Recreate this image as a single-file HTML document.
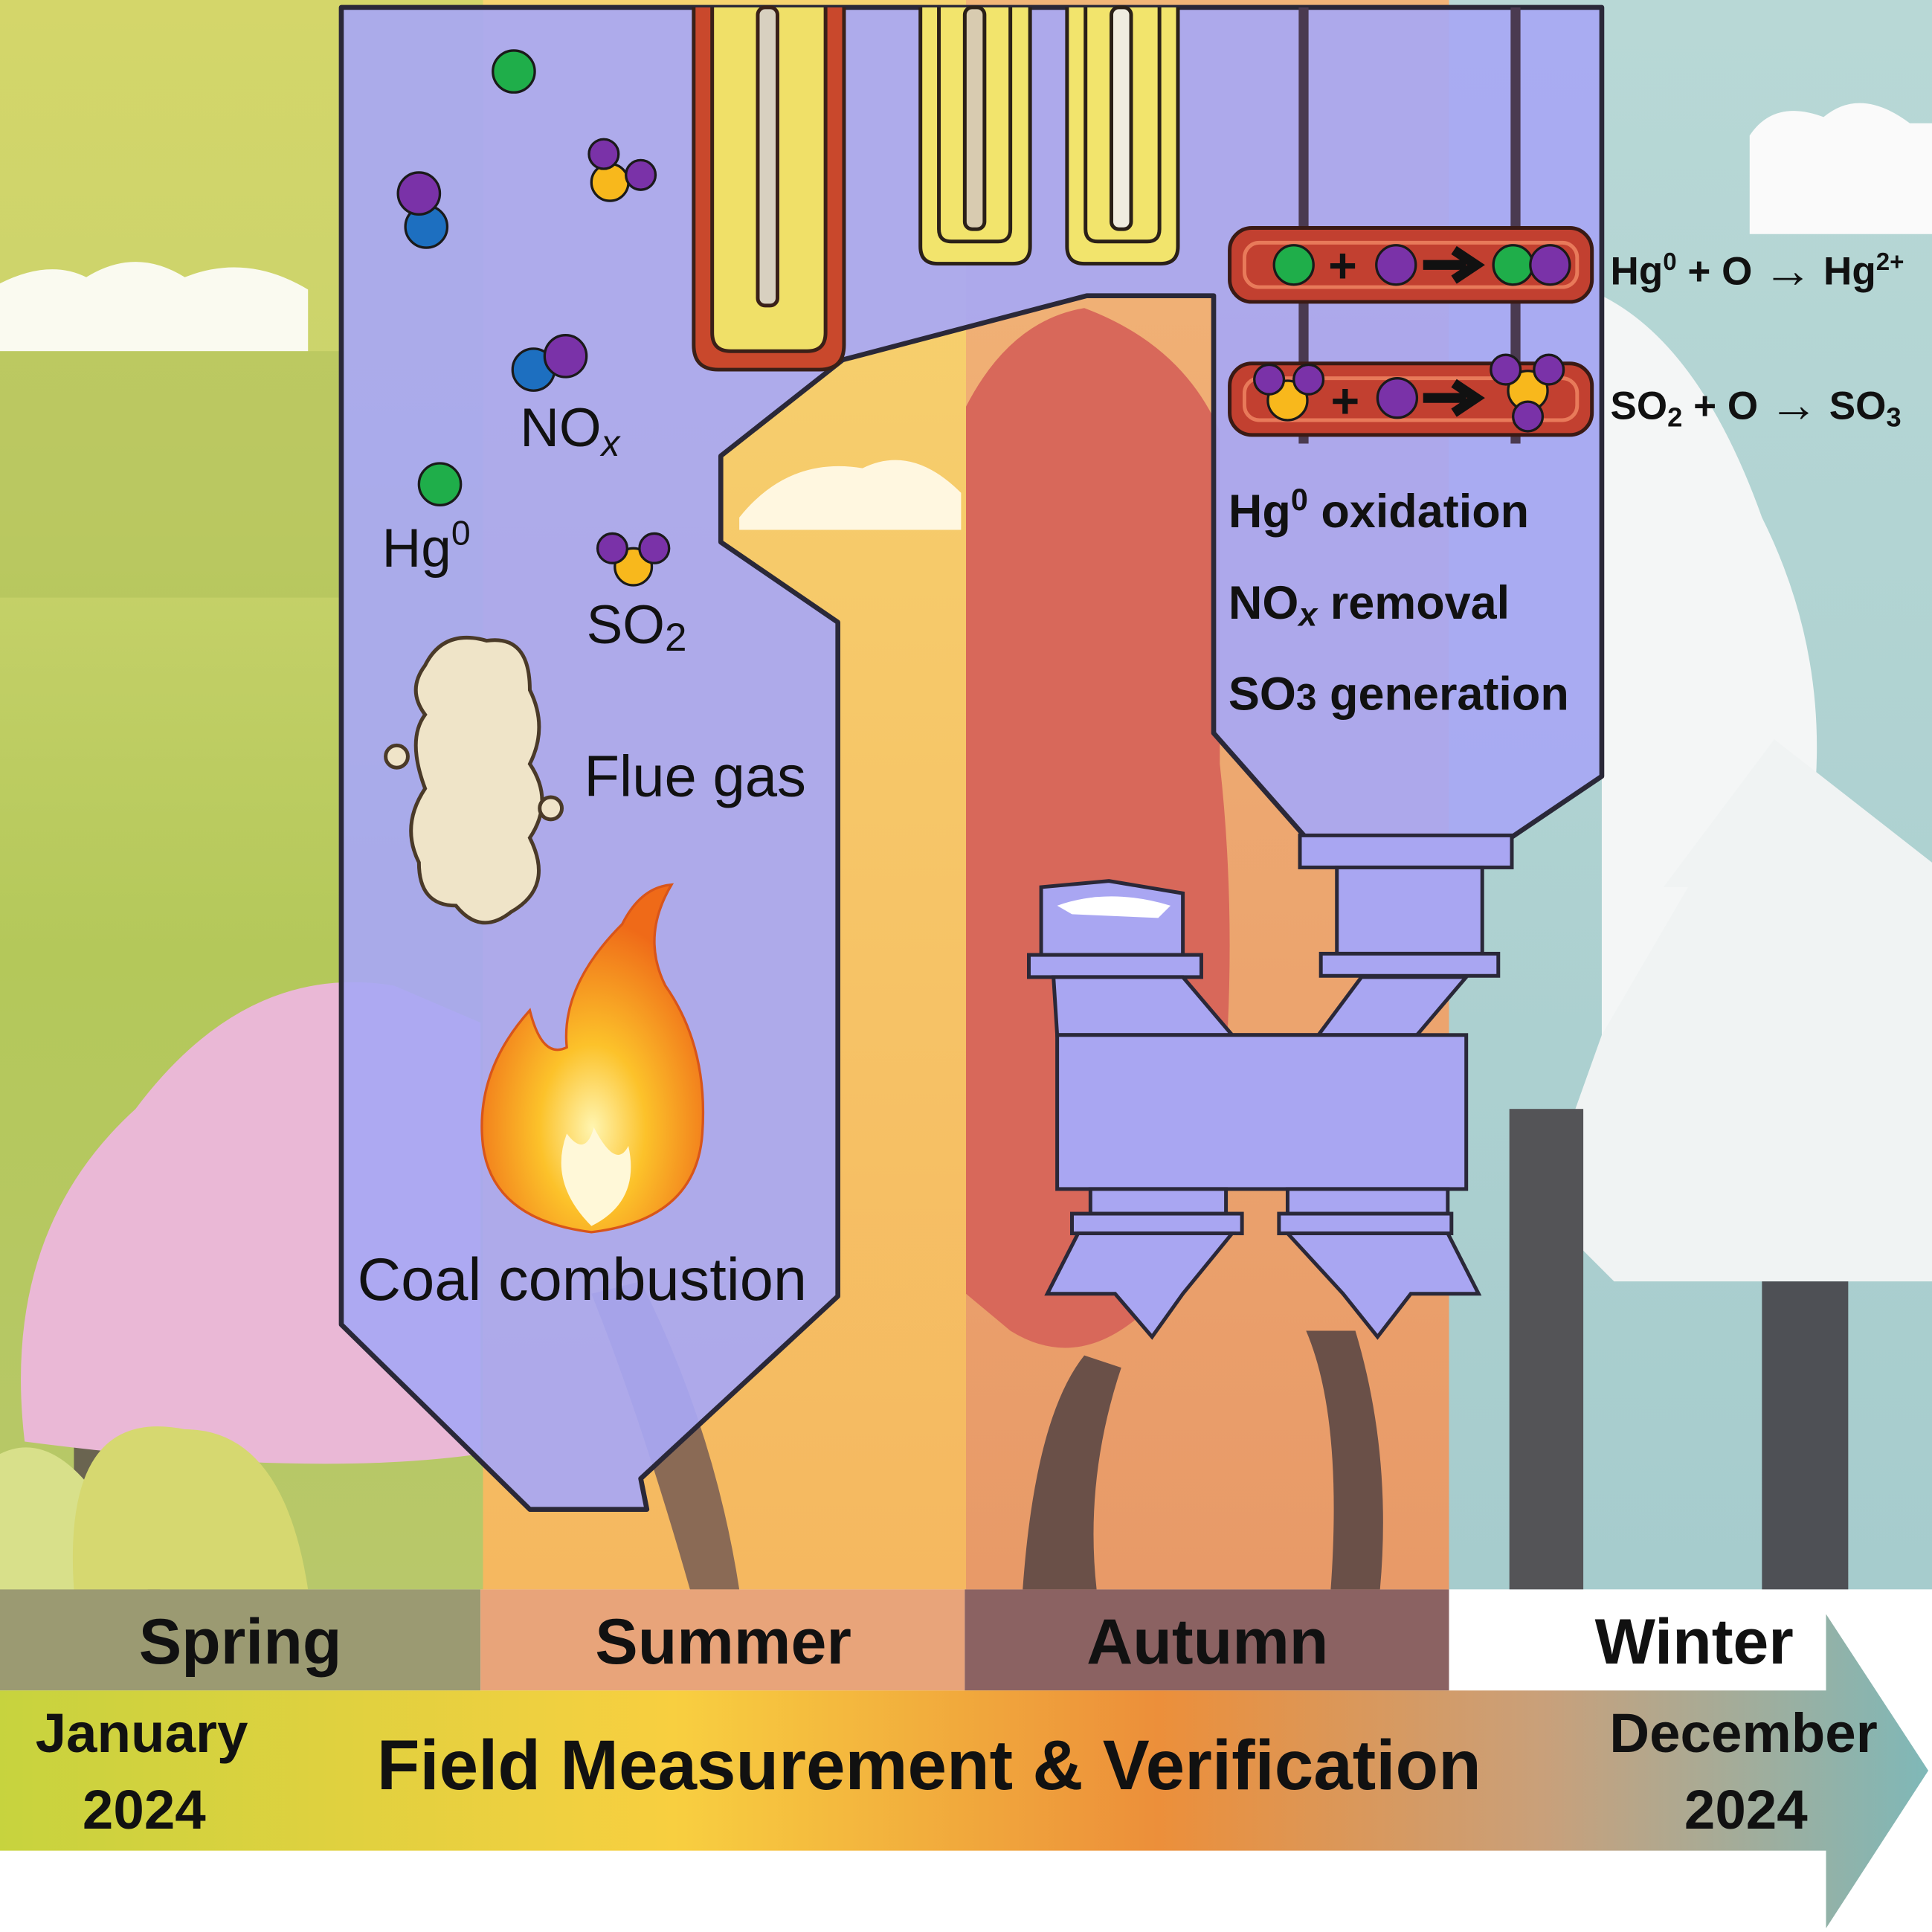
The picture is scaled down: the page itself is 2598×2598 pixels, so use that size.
<!DOCTYPE html>
<html><head><meta charset="utf-8"><style>html,body{margin:0;padding:0;background:#fff}svg{display:block}</style></head>
<body>
<svg width="2598" height="2598" viewBox="0 0 1568 1568" xmlns="http://www.w3.org/2000/svg" font-family="Liberation Sans, DejaVu Sans, sans-serif">
<defs>
<linearGradient id="spr" x1="0" y1="0" x2="0" y2="1"><stop offset="0" stop-color="#d4d66a"/><stop offset="0.3" stop-color="#c9d36c"/><stop offset="0.6" stop-color="#b4c85a"/><stop offset="1" stop-color="#b8c86a"/></linearGradient>
<linearGradient id="sum" x1="0" y1="0" x2="0" y2="1"><stop offset="0" stop-color="#f7d470"/><stop offset="1" stop-color="#f5b860"/></linearGradient>
<linearGradient id="aut" x1="0" y1="0" x2="0" y2="1"><stop offset="0" stop-color="#f2b578"/><stop offset="1" stop-color="#e89a68"/></linearGradient>
<linearGradient id="win" x1="0" y1="0" x2="0" y2="1"><stop offset="0" stop-color="#b8d8d6"/><stop offset="1" stop-color="#a6cccd"/></linearGradient>
<linearGradient id="arr" x1="0" y1="0" x2="1" y2="0"><stop offset="0" stop-color="#c7d33e"/><stop offset="0.35" stop-color="#f8cf40"/><stop offset="0.6" stop-color="#ec8f3a"/><stop offset="0.8" stop-color="#c9a07a"/><stop offset="1" stop-color="#7fb8b8"/></linearGradient>
<radialGradient id="fire" cx="0.5" cy="0.7" r="0.6"><stop offset="0" stop-color="#fff5b0"/><stop offset="0.4" stop-color="#fcc22a"/><stop offset="1" stop-color="#ef6a18"/></radialGradient>
</defs>
<rect x="0" y="0" width="392" height="1290" fill="url(#spr)"/>
<rect x="392" y="0" width="392" height="1290" fill="url(#sum)"/>
<rect x="784" y="0" width="392" height="1290" fill="url(#aut)"/>
<rect x="1176" y="0" width="392" height="1290" fill="url(#win)"/>
<path d="M0 230 Q40 210 70 225 Q110 200 150 225 Q200 205 250 235 L250 285 L0 285Z" fill="#fafaf0"/>
<rect x="0" y="285" width="280" height="200" fill="#b0c25a" opacity="0.6"/>
<rect x="60" y="1100" width="70" height="190" fill="#6a6450"/>
<path d="M20 1170 Q0 1000 110 900 Q200 780 320 800 L390 830 L390 1180 Q250 1200 20 1170Z" fill="#eab8d6"/>
<path d="M0 1180 Q60 1150 120 1290 L0 1290Z" fill="#d8e08a"/>
<path d="M60 1290 Q50 1140 150 1160 Q230 1160 250 1290Z" fill="#d6d870"/>
<path d="M600 420 Q640 370 700 380 Q740 360 780 400 L780 430 L600 430Z" fill="#fff7e0"/>
<path d="M560 1290 Q520 1150 480 1050 L520 1040 Q580 1160 600 1290Z" fill="#8a6a55"/>
<path d="M784 330 Q820 260 880 250 Q960 280 990 350 L990 620 Q1010 800 980 1000 Q900 1130 820 1080 L784 1050Z" fill="#d8685a"/>
<path d="M830 1290 Q840 1150 880 1100 L910 1110 Q880 1200 890 1290Z" fill="#6a5048"/>
<path d="M1080 1290 Q1090 1150 1060 1080 L1100 1080 Q1130 1180 1120 1290Z" fill="#6a5048"/>
<path d="M1420 110 Q1440 80 1480 95 Q1510 70 1550 100 L1568 100 L1568 190 L1420 190Z" fill="#fafafa"/>
<path d="M1300 240 Q1380 280 1430 420 Q1500 560 1460 720 Q1440 860 1300 880 L1300 240Z" fill="#f4f6f6"/>
<path d="M1440 600 L1300 840 L1250 980 L1310 1040 L1568 1040 L1568 700Z" fill="#f0f3f3"/>
<path d="M1440 600 L1350 720 L1530 720Z" fill="#f0f3f3"/>
<rect x="1225" y="900" width="60" height="390" fill="#545457"/>
<rect x="1430" y="1040" width="70" height="250" fill="#4e5055"/>
<path d="M277 6 L1300 6 L1300 630 L1226 680 L1060 680 L985 595 L985 240 L882 240 L684 292 L585 370 L585 440 L680 505 L680 1052 L520 1200 L525 1225 L430 1225 L277 1075 Z" fill="#a8a8f4" fill-opacity="0.93" stroke="#2a2838" stroke-width="4" stroke-linejoin="round"/>
<path d="M563 6 L563 280 Q563 300 583 300 L665 300 Q685 300 685 280 L685 6" fill="#c9482c" stroke="#3a2018" stroke-width="3"/>
<path d="M578 6 L578 270 Q578 285 593 285 L655 285 Q670 285 670 270 L670 6" fill="#f0e068" stroke="#3a2018" stroke-width="3"/>
<rect x="615" y="6" width="16" height="242" rx="6" fill="#d8d0c0" stroke="#3a2018" stroke-width="3"/>
<g fill="#f2e46c" stroke="#2a2018" stroke-width="3">
<path d="M747 6 L747 200 Q747 214 761 214 L822 214 Q836 214 836 200 L836 6"/>
<path d="M762 6 L762 186 Q762 196 772 196 L810 196 Q820 196 820 186 L820 6"/>
<rect x="783" y="6" width="16" height="180" rx="6" fill="#d8cbb0"/>
<path d="M866 6 L866 200 Q866 214 880 214 L942 214 Q956 214 956 200 L956 6"/>
<path d="M881 6 L881 186 Q881 196 891 196 L931 196 Q941 196 941 186 L941 6"/>
<rect x="902" y="6" width="16" height="180" rx="6" fill="#f0ece0"/>
</g>
<line x1="1058" y1="6" x2="1058" y2="360" stroke="#4a3a50" stroke-width="8"/>
<line x1="1230" y1="6" x2="1230" y2="360" stroke="#4a3a50" stroke-width="8"/>
<rect x="998" y="185" width="294" height="60" rx="18" fill="#c24030" stroke="#3a1a14" stroke-width="3"/>
<rect x="1010" y="197" width="270" height="36" rx="12" fill="none" stroke="#e87a5a" stroke-width="3"/>
<rect x="998" y="295" width="294" height="58" rx="18" fill="#c24030" stroke="#3a1a14" stroke-width="3"/>
<rect x="1010" y="307" width="270" height="34" rx="12" fill="none" stroke="#e87a5a" stroke-width="3"/>
<g stroke="#1a1a1a" stroke-width="2">
<circle cx="1050" cy="215" r="16" fill="#1fae4a"/><circle cx="1133" cy="215" r="16" fill="#7a32a8"/>
<circle cx="1228" cy="215" r="16" fill="#1fae4a"/><circle cx="1258" cy="215" r="16" fill="#7a32a8"/>
<circle cx="1045" cy="325" r="16" fill="#f8b81c"/><circle cx="1030" cy="308" r="12" fill="#7a32a8"/><circle cx="1062" cy="308" r="12" fill="#7a32a8"/>
<circle cx="1134" cy="323" r="16" fill="#7a32a8"/>
<circle cx="1240" cy="317" r="16" fill="#f8b81c"/><circle cx="1222" cy="300" r="12" fill="#7a32a8"/><circle cx="1257" cy="300" r="12" fill="#7a32a8"/><circle cx="1240" cy="338" r="12" fill="#7a32a8"/>
</g>
<g font-weight="bold" font-size="40" fill="#111"><text x="1078" y="229">+</text><text x="1080" y="339">+</text></g>
<path d="M1155 215 L1190 215 M1180 203 L1198 215 L1180 227" stroke="#111" stroke-width="8" fill="none"/>
<path d="M1155 323 L1190 323 M1180 311 L1198 323 L1180 335" stroke="#111" stroke-width="8" fill="none"/>
<g fill="#a9a6f2" stroke="#2a2838" stroke-width="3">
<rect x="1055" y="678" width="172" height="26"/>
<rect x="1085" y="704" width="118" height="70"/>
<rect x="1072" y="774" width="144" height="18"/>
<path d="M845 720 L900 715 L960 725 L960 775 L845 775Z"/>
<rect x="835" y="775" width="140" height="18"/>
<path d="M855 793 L960 793 L1000 840 L1070 840 L1105 793 L1190 793 L1150 840 L858 840Z"/>
<rect x="858" y="840" width="332" height="125"/>
<rect x="885" y="965" width="110" height="20"/><rect x="1045" y="965" width="130" height="20"/>
<rect x="870" y="985" width="138" height="16"/><rect x="1038" y="985" width="140" height="16"/>
<path d="M875 1001 L1000 1001 L960 1050 L935 1085 L905 1050 L850 1050Z"/>
<path d="M1045 1001 L1175 1001 L1200 1050 L1145 1050 L1118 1085 L1090 1050Z"/>
</g>
<path d="M858 735 Q900 720 950 735 L940 745 L870 742Z" fill="#fff"/>
<g stroke="#1a1a1a" stroke-width="2">
<circle cx="417" cy="58" r="17" fill="#1fae4a"/>
<circle cx="346" cy="184" r="17" fill="#1d6fc0"/><circle cx="340" cy="157" r="17" fill="#7a32a8"/>
<circle cx="495" cy="148" r="15" fill="#f8b81c"/><circle cx="490" cy="125" r="12" fill="#7a32a8"/><circle cx="520" cy="142" r="12" fill="#7a32a8"/>
<circle cx="433" cy="300" r="17" fill="#1d6fc0"/><circle cx="459" cy="289" r="17" fill="#7a32a8"/>
<circle cx="357" cy="393" r="17" fill="#1fae4a"/>
<circle cx="514" cy="460" r="15" fill="#f8b81c"/><circle cx="497" cy="445" r="12" fill="#7a32a8"/><circle cx="531" cy="445" r="12" fill="#7a32a8"/>
</g>
<g font-size="44" fill="#111">
<text x="422" y="362">NO<tspan font-size="30" font-style="italic" dy="8">x</tspan></text>
<text x="310" y="460">Hg<tspan font-size="28" dy="-18">0</tspan></text>
<text x="476" y="522">SO<tspan font-size="32" dy="6">2</tspan></text>
<text x="474" y="646" font-size="47">Flue gas</text>
<text x="290" y="1055" font-size="49">Coal combustion</text>
</g>
<g fill="#efe4c8" stroke="#4a3a28" stroke-width="3">
<path d="M345 540 Q360 510 395 520 Q430 515 430 560 Q445 590 430 620 Q450 650 430 680 Q450 720 415 740 Q390 760 370 735 Q340 735 340 700 Q325 670 345 640 Q330 600 345 580 Q330 560 345 540Z"/>
<circle cx="322" cy="614" r="9"/><circle cx="447" cy="656" r="9"/>
</g>
<path d="M480 1000 Q400 990 392 930 Q385 870 430 820 Q440 860 460 850 Q455 800 505 750 Q520 720 545 718 Q520 760 540 800 Q575 850 570 920 Q565 990 480 1000Z" fill="url(#fire)" stroke="#d8551a" stroke-width="2"/>
<path d="M480 995 Q445 960 460 920 Q475 940 482 915 Q500 950 510 930 Q520 975 480 995Z" fill="#fff8d8"/>
<g font-weight="bold" font-size="38" fill="#111">
<text x="997" y="428">Hg<tspan font-size="25" dy="-14">0</tspan><tspan dy="14"> oxidation</tspan></text>
<text x="997" y="502">NO<tspan font-size="27" font-style="italic" dy="6">x</tspan><tspan dy="-6"> removal</tspan></text>
<text x="997" y="576">SO<tspan font-size="30">3</tspan> generation</text>
</g>
<g font-weight="bold" font-size="32" fill="#111">
<text x="1307" y="231">Hg<tspan font-size="20" dy="-12">0</tspan><tspan dy="12"> + O </tspan><tspan font-size="40" dy="2">→</tspan><tspan dy="-2"> Hg</tspan><tspan font-size="20" dy="-12">2+</tspan></text>
<text x="1307" y="340">SO<tspan font-size="22" dy="6">2</tspan><tspan dy="-6"> + O </tspan><tspan font-size="40" dy="2">→</tspan><tspan dy="-2"> SO</tspan><tspan font-size="22" dy="6">3</tspan></text>
</g>
<rect x="0" y="1290" width="390" height="82" fill="#9b9a72"/>
<rect x="390" y="1290" width="393" height="82" fill="#e8a47a"/>
<rect x="783" y="1290" width="393" height="82" fill="#8b6262"/>
<rect x="1176" y="1290" width="392" height="82" fill="#fff"/>
<g font-weight="bold" font-size="52" fill="#111" text-anchor="middle">
<text x="195" y="1350">Spring</text><text x="587" y="1350">Summer</text><text x="980" y="1350">Autumn</text><text x="1375" y="1350">Winter</text>
</g>
<path d="M0 1372 L1482 1372 L1482 1310 L1565 1437 L1482 1565 L1482 1502 L0 1502Z" fill="url(#arr)"/>
<g font-weight="bold" font-size="45" fill="#111" text-anchor="middle">
<text x="115" y="1422">January</text><text x="117" y="1484">2024</text>
<text x="1415" y="1422">December</text><text x="1417" y="1484">2024</text>
<text x="754" y="1452" font-size="57">Field Measurement &amp; Verification</text>
</g>
</svg>
</body></html>
